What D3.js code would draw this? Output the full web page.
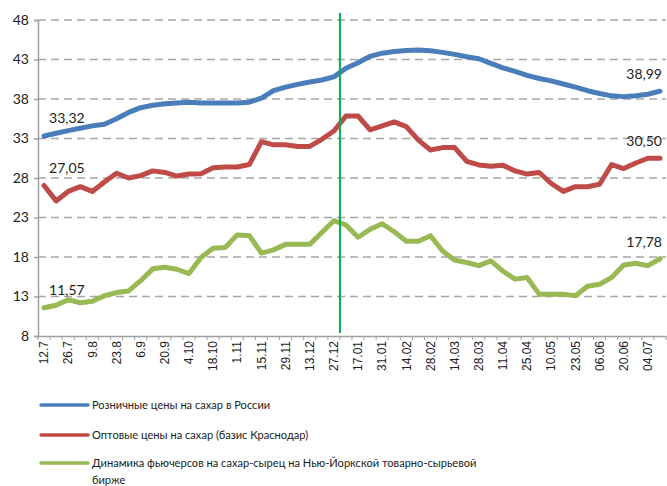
<!DOCTYPE html>
<html><head><meta charset="utf-8">
<script src="https://cdn.jsdelivr.net/npm/d3@7"></script>
<style>body{margin:0;background:#fff}svg{display:block}</style>
</head><body>
<svg id="c" width="667" height="486"></svg>
<script>
const categories = ["12.7","19.7","26.7","2.8","9.8","16.8","23.8","30.8","6.9","13.9","20.9","27.9","4.10","11.10","18.10","25.10","1.11","8.11","15.11","22.11","29.11","6.12","13.12","20.12","27.12","10.01","17.01","24.01","31.01","07.02","14.02","21.02","28.02","07.03","14.03","21.03","28.03","04.04","11.04","18.04","25.04","03.05","10.05","16.05","23.05","30.05","06.06","13.06","20.06","27.06","04.07","11.07"];
const retail = [33.32,33.66,34.0,34.3,34.6,34.8,35.5,36.3,36.9,37.2,37.4,37.5,37.6,37.5,37.5,37.5,37.5,37.6,38.1,39.05,39.5,39.85,40.15,40.4,40.8,41.9,42.6,43.4,43.8,44.0,44.15,44.2,44.1,43.9,43.65,43.35,43.1,42.5,41.95,41.5,41.0,40.6,40.3,39.9,39.5,39.05,38.7,38.4,38.3,38.4,38.6,38.99];
const wholesale = [27.05,25.1,26.3,26.9,26.3,27.5,28.6,28.0,28.3,28.9,28.7,28.25,28.5,28.55,29.3,29.4,29.4,29.7,32.6,32.2,32.2,32.0,32.0,32.9,33.95,35.85,35.85,34.1,34.6,35.1,34.5,32.8,31.55,31.85,31.85,30.1,29.65,29.5,29.6,28.9,28.5,28.7,27.3,26.3,26.9,26.9,27.2,29.7,29.2,29.9,30.5,30.5];
const futures = [11.57,11.9,12.6,12.2,12.4,13.1,13.5,13.7,15.0,16.5,16.7,16.45,15.9,17.95,19.1,19.2,20.8,20.7,18.5,18.9,19.6,19.6,19.6,21.1,22.6,22.05,20.5,21.5,22.2,21.2,20.0,20.0,20.7,18.75,17.6,17.3,16.9,17.5,16.2,15.2,15.4,13.3,13.3,13.3,13.1,14.3,14.55,15.4,17.0,17.2,16.9,17.78];
const yTicks = [8,13,18,23,28,33,38,43,48];
const seriesNames = ["Розничные цены на сахар в России","Оптовые цены на сахар (базис Краснодар)","Динамика фьючерсов на сахар-сырец на Нью-Йоркской товарно-сырьевой бирже"];
const seriesColors = ["#4a7ebb","#be4b48","#98b954"];
const markerCategory = "10.01";

const svg = d3.select("#c");
const L=38, R=666, T=20, B=336;
const x = d3.scaleBand().domain(categories).range([L,R]).padding(0);
const y = d3.scaleLinear().domain([8,48]).range([B,T]);
const cx = d => x(d)+x.bandwidth()/2;
const calib = "Lato, 'Liberation Sans', sans-serif";

// gridlines
svg.append("g").selectAll("line").data(yTicks.filter(t=>t>8)).join("line")
  .attr("x1",L).attr("x2",R).attr("y1",d=>y(d)).attr("y2",d=>y(d))
  .attr("stroke","#a6a6a6").attr("stroke-width",1.5).attr("stroke-dasharray","8,5");

// y axis
const ya = svg.append("g").attr("transform",`translate(${L},0)`)
  .call(d3.axisLeft(y).tickValues(yTicks).tickSize(4).tickPadding(5).tickFormat(d3.format("d")));
ya.select(".domain").attr("stroke","#a0a0a0").attr("stroke-width",1.5);
ya.selectAll(".tick line").attr("stroke","#a0a0a0").attr("stroke-width",1.5);
ya.selectAll("text").attr("font-family",calib).attr("font-size",14).attr("fill","#222");

// x axis
const xa = svg.append("g").attr("transform",`translate(0,${B})`)
  .call(d3.axisBottom(x).tickValues(categories.filter((d,i)=>i%2===0)).tickSize(0).tickPadding(0));
xa.select(".domain").attr("stroke","#a0a0a0").attr("stroke-width",1.5);
xa.selectAll(".tick text").attr("font-family","'Liberation Sans', Arial, sans-serif").attr("font-size",12).attr("fill","#222")
  .attr("text-anchor","end").attr("dy","0.35em").attr("transform","translate(0,5) rotate(-90)");
// boundary ticks
svg.append("g").selectAll("line").data(categories.concat(["__end"])).join("line")
  .attr("x1",(d,i)=> i<categories.length? x(d): R).attr("x2",(d,i)=> i<categories.length? x(d): R)
  .attr("y1",B).attr("y2",B+4).attr("stroke","#a0a0a0").attr("stroke-width",1);

// lines
const line = d3.line().x((d,i)=>cx(categories[i])).y(d=>y(d)).curve(d3.curveLinear);
[retail,wholesale,futures].forEach((s,k)=>{
  svg.append("path").datum(s).attr("d",line).attr("fill","none")
    .attr("stroke",seriesColors[k]).attr("stroke-width",5).attr("stroke-linejoin","round").attr("stroke-linecap","round");
});

// marker vertical line
svg.append("line").attr("x1",x(markerCategory)).attr("x2",x(markerCategory))
  .attr("y1",13).attr("y2",333).attr("stroke","#00b050").attr("stroke-width",2);

// data labels
const fmt = v => v.toFixed(2).replace(".",",");
const lab = svg.append("g").attr("font-family",calib).attr("font-size",14).attr("fill","#222");
[retail,wholesale,futures].forEach(s=>{
  const n=s.length-1;
  lab.append("text").attr("x",cx(categories[0])+5).attr("y",y(s[0])-13).text(fmt(s[0]));
  lab.append("text").attr("x",cx(categories[n])+2).attr("y",y(s[n])-12).attr("text-anchor","end").text(fmt(s[n]));
});

// legend
const lg = svg.append("g").attr("font-family",calib).attr("font-size",11.1).attr("fill","#222");
const ly=[405,435,463];
seriesNames.forEach((n,k)=>{
  lg.append("line").attr("x1",41).attr("x2",88).attr("y1",ly[k]).attr("y2",ly[k])
    .attr("stroke",seriesColors[k]).attr("stroke-width",3.5).attr("stroke-linecap","round");
  const t = lg.append("text").attr("x",92).attr("y",ly[k]+4);
  if(k===2){
    t.append("tspan").attr("x",92).text("Динамика фьючерсов на сахар-сырец на Нью-Йоркской товарно-сырьевой");
    t.append("tspan").attr("x",92).attr("dy",17).text("бирже");
  } else t.text(n);
});
</script>
</body></html>
